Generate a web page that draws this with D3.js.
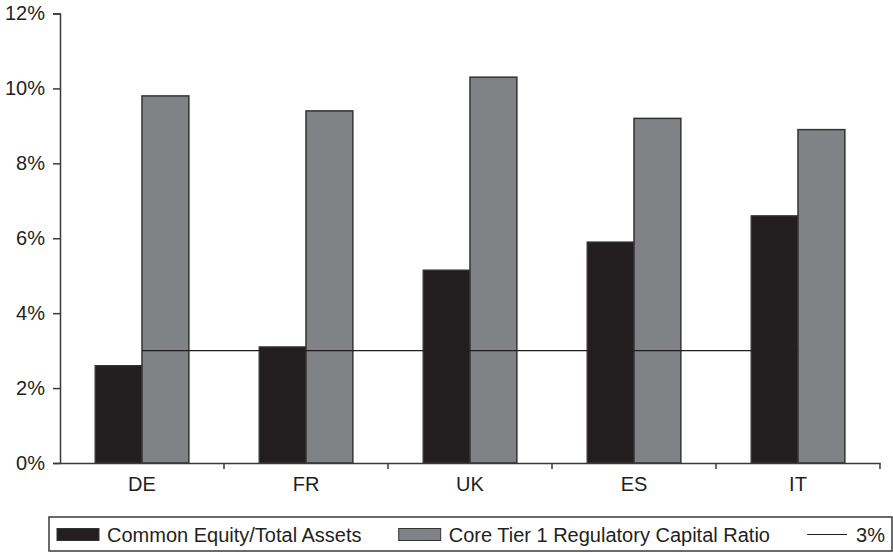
<!DOCTYPE html>
<html><head><meta charset="utf-8">
<script src="https://cdn.jsdelivr.net/npm/d3@7"></script>
<style>body{margin:0;background:#fff;} svg{display:block;} text{font-family:"Liberation Sans",Arial,sans-serif;fill:#231f20;}</style>
</head><body><svg id="c" width="893" height="553"></svg>
<script>
const categories = ["DE","FR","UK","ES","IT"];
const commonEquity = [2.6, 3.1, 5.15, 5.9, 6.6];
const coreTier1 = [9.8, 9.4, 10.3, 9.2, 8.9];
const threshold = [3, 3, 3, 3, 3];
const yTicks = [0, 2, 4, 6, 8, 10, 12];
const seriesNames = ["Common Equity/Total Assets", "Core Tier 1 Regulatory Capital Ratio", "3%"];

(function(){
const svg = d3.select("#c");
const pLeft = 60, pRight = 880, pTop = 13.5, pBottom = 463;
const FS = 20;
const x = d3.scaleBand().domain(categories).range([pLeft, pRight]).padding(0);
const y = d3.scaleLinear().domain([0, 12]).range([pBottom, pTop]);
const bw = x.bandwidth() / 3.5;
const black = "#231f20", gray = "#808285", stroke = "#333";

const g = svg.append("g");
g.selectAll(".ce").data(categories).join("rect")
  .attr("x", (d) => x(d) + x.bandwidth()/2 - bw)
  .attr("y", (d,i) => y(commonEquity[i]))
  .attr("width", bw).attr("height", (d,i) => y(0) - y(commonEquity[i]))
  .attr("fill", black).attr("stroke", stroke).attr("stroke-width", 1.2);
g.selectAll(".ct").data(categories).join("rect")
  .attr("x", (d) => x(d) + x.bandwidth()/2)
  .attr("y", (d,i) => y(coreTier1[i]))
  .attr("width", bw).attr("height", (d,i) => y(0) - y(coreTier1[i]))
  .attr("fill", gray).attr("stroke", stroke).attr("stroke-width", 1.5);

const line = d3.line().x((d,i) => x(categories[i]) + x.bandwidth()/2).y(d => y(d));
svg.append("path").datum(threshold).attr("d", line)
  .attr("fill", "none").attr("stroke", black).attr("stroke-width", 1.2);

const yAxis = d3.axisLeft(y).tickValues(yTicks).tickFormat(d => d + "%").tickSize(7).tickPadding(8);
const ya = svg.append("g").attr("transform", `translate(${pLeft},0)`).call(yAxis);
ya.select(".domain").attr("stroke", "#3a3a3a").attr("stroke-width", 1.5);
ya.selectAll(".tick line").attr("stroke", "#3a3a3a").attr("stroke-width", 1.5);
ya.selectAll(".tick text").attr("font-size", FS).attr("font-family", null).attr("fill", black);

const xAxis = d3.axisBottom(x).tickSizeOuter(0).tickSize(0).tickPadding(14);
const xa = svg.append("g").attr("transform", `translate(0,${pBottom})`).call(xAxis);
xa.select(".domain").attr("stroke", "#3a3a3a").attr("stroke-width", 1.5);
xa.selectAll(".tick text").attr("font-size", FS).attr("font-family", null).attr("fill", black);
const bounds = categories.map(c => x(c) + x.bandwidth());
xa.selectAll(".bt").data(bounds).join("line")
  .attr("x1", d => d).attr("x2", d => d).attr("y1", 0).attr("y2", 6)
  .attr("stroke", "#3a3a3a").attr("stroke-width", 1.5);

// legend: items spread between 57 and 885
const lg = svg.append("g");
lg.append("rect").attr("x", 49).attr("y", 517).attr("width", 843).attr("height", 34)
  .attr("fill", "none").attr("stroke", "#3a3a3a").attr("stroke-width", 1.5);
const ly = 534.5;
const mk = t => lg.append("text").attr("y", ly).attr("dy", "0.35em").attr("font-size", FS).text(t);
const t0 = mk(seriesNames[0]), t1 = mk(seriesNames[1]), t2 = mk(seriesNames[2]);
const w0 = t0.node().getComputedTextLength(), w1 = t1.node().getComputedTextLength(), w2 = t2.node().getComputedTextLength();
const startX = 57, endX = 885;
const fixed = 50 + w0 + 50 + w1 + 49 + w2;
const gap = (endX - startX - fixed) / 2;
let cx = startX;
lg.append("rect").attr("x", cx).attr("y", ly-6).attr("width", 42).attr("height", 12).attr("fill", black).attr("stroke", stroke);
t0.attr("x", cx + 50); cx += 50 + w0 + gap;
lg.append("rect").attr("x", cx).attr("y", ly-6).attr("width", 42).attr("height", 12).attr("fill", gray).attr("stroke", stroke);
t1.attr("x", cx + 50); cx += 50 + w1 + gap;
lg.append("line").attr("x1", cx).attr("x2", cx+40).attr("y1", ly).attr("y2", ly).attr("stroke", black).attr("stroke-width", 1.2);
t2.attr("x", cx + 49);
})();
</script></body></html>
